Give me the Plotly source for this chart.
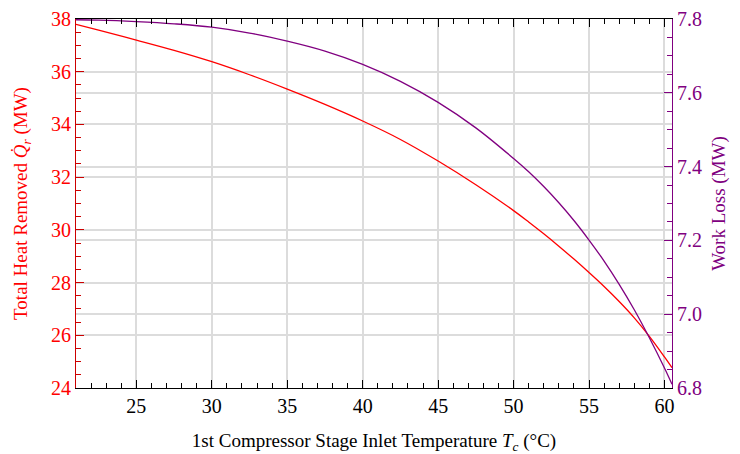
import plotly.graph_objects as go

temperature = [21, 22.5, 25, 27.5, 30, 32.5, 35, 37.5, 40, 42.5, 45, 47.5,
               50, 51, 52, 53, 54, 55, 56, 57, 58, 59, 60, 60.5]
heat_removed = [37.80, 37.58, 37.20, 36.81, 36.38, 35.885, 35.34, 34.76, 34.13, 33.43, 32.61, 31.71,
                30.73, 30.30, 29.85, 29.38, 28.89, 28.38, 27.85, 27.28, 26.66, 25.96, 25.18, 24.77]
work_loss = [7.798, 7.797, 7.793, 7.787, 7.778, 7.762, 7.740, 7.713, 7.677, 7.631, 7.574, 7.505,
             7.422, 7.386, 7.346, 7.302, 7.254, 7.201, 7.144, 7.081, 7.012, 6.936, 6.854, 6.810]

RED = "#ff0000"
PURPLE = "#800080"
FONT = "Liberation Serif"

fig = go.Figure()
fig.add_trace(go.Scatter(x=temperature, y=heat_removed, mode="lines",
                         line=dict(color=RED, width=1.3, shape="spline", smoothing=1),
                         showlegend=False))
fig.add_trace(go.Scatter(x=temperature, y=work_loss, mode="lines", yaxis="y2",
                         line=dict(color=PURPLE, width=1.3, shape="spline", smoothing=1),
                         showlegend=False))

# The page body adds an 8px offset, so the figure is 8px smaller and margins shifted.
fig.update_layout(
    width=732, height=446,
    margin=dict(l=68, r=68, t=11, b=66, autoexpand=False),
    plot_bgcolor="white", paper_bgcolor="white",
    font=dict(family=FONT, size=19, color="black"),
    xaxis=dict(
        range=[21, 60.5], tickvals=[25, 30, 35, 40, 45, 50, 55, 60],
        automargin=False,
        showline=True, linecolor="black", linewidth=1.2, mirror="ticks",
        ticks="inside", ticklen=8, tickcolor="black", tickwidth=1.2,
        minor=dict(dtick=1, tick0=0, ticks="inside", ticklen=5, tickcolor="black",
                   showgrid=False),
        showgrid=True, gridcolor="#dcdcdc", gridwidth=1.5,
        zeroline=False,
        title=dict(text="1st Compressor Stage Inlet Temperature <i>T</i><sub><i>c</i></sub> (°C)",
                   standoff=20, font=dict(size=19)),
        tickfont=dict(size=20),
    ),
    yaxis=dict(
        range=[24, 38], dtick=2,
        automargin=False,
        showline=True, linecolor="#cc0000", linewidth=1.2,
        ticks="inside", ticklen=8, tickcolor="#cc0000", tickwidth=1.2,
        minor=dict(dtick=0.5, ticks="inside", ticklen=5, tickcolor="#cc0000", showgrid=False),
        showgrid=True, gridcolor="#dcdcdc", gridwidth=1.5,
        zeroline=False,
        tickfont=dict(color=RED, size=20),
        title=dict(text="Total Heat Removed <i>Q̇</i><sub><i>r</i></sub> (MW)",
                   font=dict(color=RED, size=19), standoff=18),
    ),
    yaxis2=dict(
        range=[6.8, 7.8], dtick=0.2, tickformat=".1f",
        overlaying="y", side="right", automargin=False,
        showline=True, linecolor=PURPLE, linewidth=1.2,
        ticks="inside", ticklen=8, tickcolor=PURPLE, tickwidth=1.2,
        minor=dict(dtick=0.05, ticks="inside", ticklen=5, tickcolor=PURPLE, showgrid=False),
        showgrid=True, gridcolor="#dcdcdc", gridwidth=1.5,
        zeroline=False,
        tickfont=dict(color=PURPLE, size=20),
        title=dict(text="Work Loss (MW)", font=dict(color=PURPLE, size=19), standoff=10),
    ),
)

fig.write_html("out.html")
